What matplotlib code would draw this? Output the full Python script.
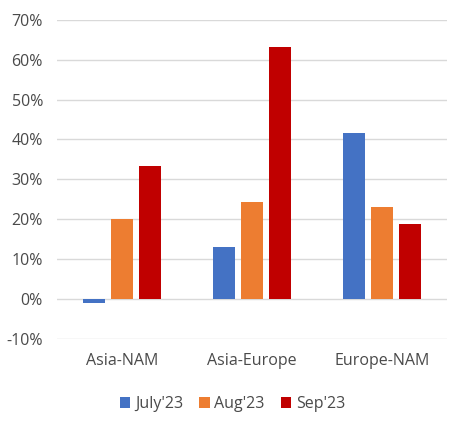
import numpy as np
import matplotlib
matplotlib.use("Agg")
import matplotlib.pyplot as plt
from matplotlib.ticker import FuncFormatter

plt.rcParams['font.family'] = ['Open Sans', 'DejaVu Sans']

# Datos
rutas = ["Asia-NAM", "Asia-Europe", "Europe-NAM"]
meses = ["July'23", "Aug'23", "Sep'23"]
julio = [-1.0, 13.0, 41.7]
agosto = [20.0, 24.2, 23.1]
septiembre = [33.4, 63.3, 18.9]
colores = ["#4472C4", "#ED7D31", "#C00000"]

fig = plt.figure(figsize=(4.62, 4.22), dpi=100)
ax = fig.add_axes([0.123, 0.197, 0.845, 0.756])

x = np.arange(len(rutas))
ancho = 0.165
paso = 0.215
for i, (serie, nombre) in enumerate(zip([julio, agosto, septiembre], meses)):
    ax.bar(x + (i - 1) * paso, serie, ancho, color=colores[i], label=nombre, zorder=3)

ax.set_xlim(-0.5, 2.5)
ax.set_ylim(-10, 70)
ax.set_yticks(np.arange(-10, 71, 10))
ax.yaxis.set_major_formatter(FuncFormatter(lambda v, p: f"{v:.0f}%"))
ax.set_xticks(x)
ax.set_xticklabels(rutas)
ax.grid(axis='y', color='#D9D9D9', linewidth=1, zorder=0)
for s in ax.spines.values():
    s.set_visible(False)
ax.tick_params(length=0, labelsize=11.5, colors='#4A4A4A')
ax.tick_params(axis='x', pad=10)
ax.tick_params(axis='y', pad=10)

ax.legend(loc='upper center', bbox_to_anchor=(0.45, -0.135), ncol=3, frameon=False,
          fontsize=11.5, handlelength=0.65, handleheight=0.65, columnspacing=1.0,
          handletextpad=0.3, labelcolor='#4A4A4A')

fig.savefig("out.png", dpi=100)
